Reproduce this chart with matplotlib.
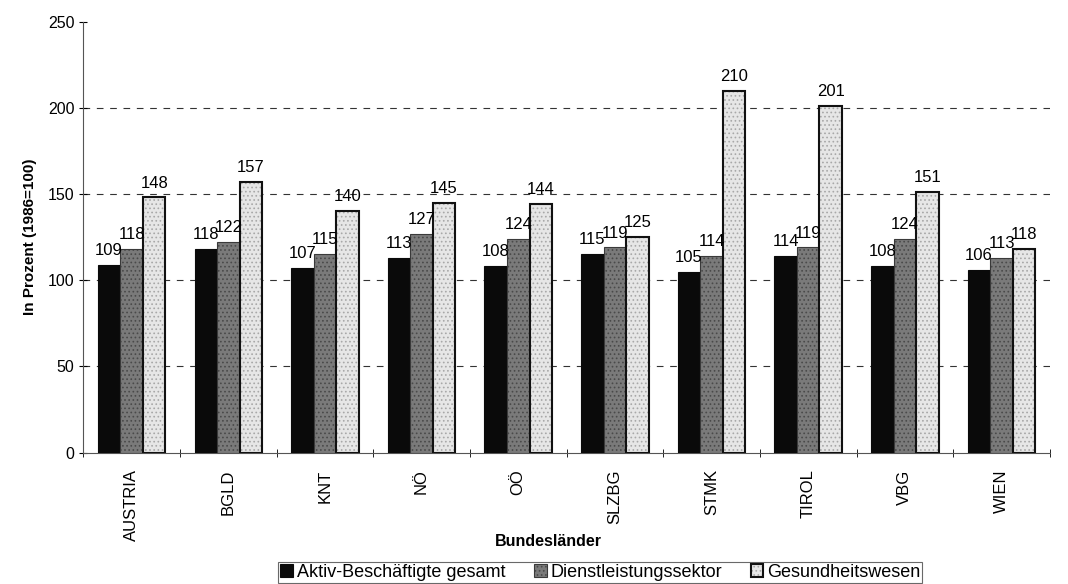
import matplotlib
matplotlib.use("Agg")
import matplotlib.pyplot as plt
from matplotlib.colors import to_rgba
import numpy as np

categories = ["AUSTRIA", "BGLD", "KNT", "NÖ", "OÖ", "SLZBG", "STMK", "TIROL", "VBG", "WIEN"]
aktiv = [109, 118, 107, 113, 108, 115, 105, 114, 108, 106]
dienst = [118, 122, 115, 127, 124, 119, 114, 119, 124, 113]
gesund = [148, 157, 140, 145, 144, 125, 210, 201, 151, 118]
series_names = ["Aktiv-Beschäftigte gesamt", "Dienstleistungssektor", "Gesundheitswesen"]
y_ticks = [0, 50, 100, 150, 200, 250]

plt.rcParams['font.family'] = ['Liberation Sans', 'DejaVu Sans']
plt.rcParams['hatch.linewidth'] = 0.7

fig = plt.figure(figsize=(10.68, 5.84), dpi=100)
ax = fig.add_axes([0.078, 0.225, 0.905, 0.738])

x = np.arange(len(categories))
w = 0.233
styles = [
    dict(facecolor="#0a0a0a", edgecolor="#0a0a0a", linewidth=0.8),
    dict(facecolor="#7a7a7a", edgecolor="#3a3a3a", linewidth=0.8, hatch="...."),
    dict(facecolor="#e6e6e6", edgecolor="#111111", linewidth=1.5, hatch="...."),
]
hatch_colors = [None, "#4a4a4a", "#a8a8a8"]
data = [aktiv, dienst, gesund]
for i, (vals, name, st) in enumerate(zip(data, series_names, styles)):
    bars = ax.bar(x + (i - 1) * w, vals, w, label=name, zorder=3, **st)
    if hatch_colors[i]:
        for b in bars:
            b._hatch_color = to_rgba(hatch_colors[i])
    ax.bar_label(bars, labels=[str(v) for v in vals], padding=5, fontsize=12, zorder=4)

ax.set_xlim(-0.5, len(categories) - 0.5)
ax.set_ylim(0, 250)
ax.set_yticks(y_ticks)
ax.set_xticks(x)
ax.set_xticklabels(categories, rotation=90, fontsize=12)
ax.set_xticks(np.arange(len(categories) + 1) - 0.5, minor=True)
ax.tick_params(axis='x', which='major', length=0, pad=12)
ax.tick_params(axis='x', which='minor', length=6, direction='inout')
ax.tick_params(axis='y', length=6, direction='inout', labelsize=11.5)

ax.yaxis.grid(True, linestyle=(0, (6, 6)), color="#333333", linewidth=0.8, zorder=0)
gl = ax.get_ygridlines()
gl[0].set_visible(False)
gl[-1].set_visible(False)

for s in ["top", "right"]:
    ax.spines[s].set_visible(False)
ax.spines["left"].set_color("#555555")
ax.spines["bottom"].set_color("#555555")

ax.set_ylabel("In Prozent (1986=100)", fontsize=11, fontweight="bold", labelpad=8)
ax.set_xlabel("Bundesländer", fontsize=11.5, fontweight="bold")
ax.xaxis.set_label_coords(0.481, -0.19)

leg = fig.legend(loc="lower center", bbox_to_anchor=(0.562, 0.002), ncol=3, frameon=True,
                 fancybox=False, edgecolor="#444444", fontsize=13, handlelength=0.7,
                 handleheight=0.7, handletextpad=0.2, columnspacing=1.6, borderpad=0.1,
                 borderaxespad=0)
leg.get_frame().set_linewidth(0.8)

fig.savefig("out.png", dpi=100, facecolor="white")
